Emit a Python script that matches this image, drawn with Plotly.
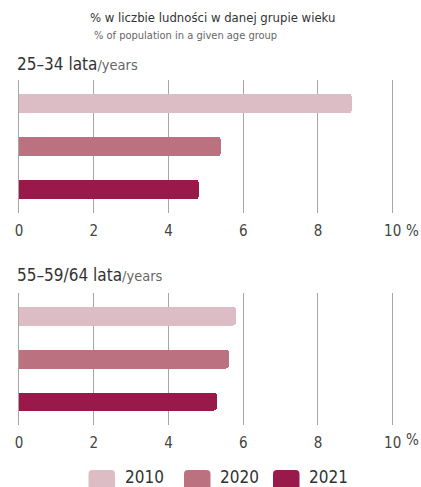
import plotly.graph_objects as go

years = ["2010", "2020", "2021"]
colors = ["#dcbdc6", "#bb717f", "#99194b"]
group_titles = ["25–34 lata", "55–59/64 lata"]
values_25_34 = [8.9, 5.4, 4.8]
values_55_64 = [5.8, 5.6, 5.3]
x_ticks = [0, 2, 4, 6, 8, 10]

FONT = "DejaVu Sans Condensed, DejaVu Sans, sans-serif"
W, H = 421, 487

def px_x(p):
    return p / W

def py(p):
    return 1 - p / H

fig = go.Figure()
groups = [values_25_34, values_55_64]
axes = [("x", "y"), ("x2", "y2")]
for gi, vals in enumerate(groups):
    xa, ya = axes[gi]
    for i, (yr, v) in enumerate(zip(years, vals)):
        fig.add_trace(go.Bar(
            x=[v], y=[i], orientation="h", width=0.44,
            marker=dict(color=colors[i], line=dict(width=0), cornerradius=3),
            xaxis=xa, yaxis=ya, showlegend=False, hoverinfo="x",
            name=yr,
        ))

unit = (392.7 - 19) / 10
pad = 0.06
xdom = [(19 - pad * unit) / W, (392.7 + pad * unit) / W]
axis_common = dict(
    range=[-pad, 10 + pad], tickvals=x_ticks, ticktext=[str(t) for t in x_ticks],
    showgrid=True, gridcolor="#a6a6a6", gridwidth=1,
    zeroline=False, showline=False, ticks="", automargin=False,
    ticklabelstandoff=7,
    tickfont=dict(family=FONT, size=15, color="#444444"),
    fixedrange=True,
)
yaxis_common = dict(range=[2.55, -0.55], showticklabels=False, showgrid=False,
                    zeroline=False, showline=False, fixedrange=True, automargin=False)

fig.update_layout(
    template="none",
    width=W, height=H,
    margin=dict(l=0, r=0, t=0, b=0, pad=0),
    paper_bgcolor="white", plot_bgcolor="white",
    bargap=0,
    xaxis=dict(domain=xdom, anchor="y", **axis_common),
    yaxis=dict(domain=[py(213), py(80)], anchor="x", **yaxis_common),
    xaxis2=dict(domain=xdom, anchor="y2", **axis_common),
    yaxis2=dict(domain=[py(425), py(292.5)], anchor="x2", **yaxis_common),
    font=dict(family=FONT),
    showlegend=False,
)

ann = []
ann.append(dict(text="% w liczbie ludności w danej grupie wieku", x=px_x(212.5), y=py(17),
                xref="paper", yref="paper", xanchor="center", yanchor="middle",
                showarrow=False, font=dict(family=FONT, size=13, color="#333333")))
ann.append(dict(text="% of population in a given age group", x=px_x(92), y=py(36),
                xref="paper", yref="paper", xanchor="left", yanchor="middle",
                showarrow=False, font=dict(family=FONT, size=11, color="#666666")))
for title, ypx in zip(group_titles, [64, 275]):
    ann.append(dict(text=f"{title}<span style='font-size:14.5px;color:#666666'>/years</span>",
                    x=px_x(15), y=py(ypx), xref="paper", yref="paper",
                    xanchor="left", yanchor="middle", showarrow=False,
                    font=dict(family=FONT, size=17, color="#333333")))
for ypx in [231, 440]:
    ann.append(dict(text="%", x=px_x(404), y=py(ypx), xref="paper", yref="paper",
                    xanchor="left", yanchor="middle", showarrow=False,
                    font=dict(family=FONT, size=15, color="#444444")))

# legend
shapes = []
leg_x = [88.5, 184, 273]
y_top, y_bot, r = 470, 490, 4
for yr, c, lx in zip(years, colors, leg_x):
    x0, x1 = lx, lx + 26.5
    path = (f"M {px_x(x0 + r)} {py(y_top)} L {px_x(x1 - r)} {py(y_top)} "
            f"Q {px_x(x1)} {py(y_top)} {px_x(x1)} {py(y_top + r)} "
            f"L {px_x(x1)} {py(y_bot)} L {px_x(x0)} {py(y_bot)} "
            f"L {px_x(x0)} {py(y_top + r)} Q {px_x(x0)} {py(y_top)} {px_x(x0 + r)} {py(y_top)} Z")
    shapes.append(dict(type="path", xref="paper", yref="paper", path=path,
                       fillcolor=c, line=dict(width=0), layer="above"))
    ann.append(dict(text=yr, x=px_x(lx + 34), y=py(477), xref="paper", yref="paper",
                    xanchor="left", yanchor="middle", showarrow=False,
                    font=dict(family=FONT, size=17, color="#333333")))

fig.update_layout(annotations=ann, shapes=shapes)
fig.write_html("out.html", config={"displayModeBar": False},
               post_script="document.body.style.margin='0';document.body.style.overflow='hidden';")
